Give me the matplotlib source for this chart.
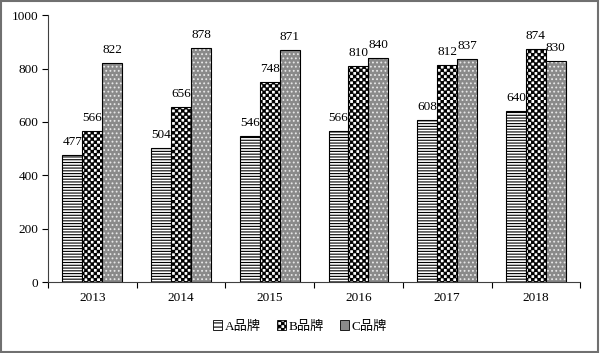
import numpy as np
import matplotlib
matplotlib.use("Agg")
import matplotlib.pyplot as plt
from matplotlib import hatch as mhatch
from matplotlib.path import Path
from matplotlib.patches import Rectangle
import warnings
warnings.filterwarnings("ignore")

years = ["2013", "2014", "2015", "2016", "2017", "2018"]
brand_a = [477, 504, 546, 566, 608, 640]
brand_b = [566, 656, 748, 810, 812, 874]
brand_c = [822, 878, 871, 840, 837, 830]
series_names = ["A品牌", "B品牌", "C品牌"]


class CheckerHatch(mhatch.HatchPatternBase):
    def __init__(self, hatch, density):
        self.n = hatch.count('c') * 16
        if self.n:
            self.cells = [(i, j) for i in range(self.n) for j in range(self.n) if (i + j) % 2 == 0]
            self.num_vertices = len(self.cells) * 5
        else:
            self.cells = []
            self.num_vertices = 0

    def set_vertices_and_codes(self, vertices, codes):
        s = 1.0 / self.n
        sh = s * 0.12
        k = 0
        for (i, j) in self.cells:
            x0, y0 = i * s + sh, j * s + sh
            x1, y1 = (i + 1) * s - sh, (j + 1) * s - sh
            vertices[k:k + 5] = [(x0, y0), (x1, y0), (x1, y1), (x0, y1), (x0, y0)]
            codes[k:k + 5] = [Path.MOVETO, Path.LINETO, Path.LINETO, Path.LINETO, Path.CLOSEPOLY]
            k += 5


mhatch._hatch_types.append(CheckerHatch)

plt.rcParams['font.family'] = ['Liberation Serif', 'Noto Sans CJK SC']
plt.rcParams['hatch.linewidth'] = 0.8

fig = plt.figure(figsize=(6.0, 3.53), dpi=100)
ax = fig.add_axes([0.08, 0.201, 0.887, 0.756])

x = np.arange(len(years))
w = 0.225
xa, xb, xc = x - w, x, x + w

ba = ax.bar(xa, brand_a, w, facecolor='white', edgecolor='black', hatch='------', linewidth=0.8)
bb = ax.bar(xb, brand_b, w, facecolor='white', edgecolor='black', hatch='cc', linewidth=0.8)
bc_fill = ax.bar(xc, brand_c, w, facecolor='#8a8a8a', edgecolor='#e8e8e8', hatch='....', linewidth=0)
bc = ax.bar(xc, brand_c, w, facecolor='none', edgecolor='black', linewidth=0.8)

for xs, vals in ((xa, brand_a), (xb, brand_b), (xc, brand_c)):
    for xi, v in zip(xs, vals):
        ax.text(xi, v + 26, str(v), ha='center', va='bottom', fontsize=9.5)

ax.set_ylim(0, 1000)
ax.set_yticks(np.arange(0, 1001, 200))
ax.set_xlim(-0.5, len(years) - 0.5)
ax.set_xticks(x)
ax.set_xticklabels(years, fontsize=9.5)
ax.set_xticks(np.arange(-0.5, len(years), 1.0), minor=True)
ax.tick_params(axis='x', which='major', length=0, pad=7)
ax.tick_params(axis='x', which='minor', length=4, direction='out', width=0.8)
ax.tick_params(axis='y', length=4, direction='out', width=0.8, labelsize=9.5, pad=3)
for s in ('top', 'right'):
    ax.spines[s].set_visible(False)
for s in ('left', 'bottom'):
    ax.spines[s].set_linewidth(0.8)
    ax.spines[s].set_color('#404040')

h1 = Rectangle((0, 0), 1, 1, facecolor='white', edgecolor='black', hatch='----', linewidth=0.6)
h2 = Rectangle((0, 0), 1, 1, facecolor='white', edgecolor='black', hatch='cc', linewidth=0.6)
h3 = Rectangle((0, 0), 1, 1, facecolor='#8a8a8a', edgecolor='black', linewidth=0.6)
leg = fig.legend([h1, h2, h3], series_names, loc='center', bbox_to_anchor=(0.5, 0.075),
                 ncol=3, frameon=False, fontsize=9.5, handlelength=0.7, handleheight=0.7,
                 handletextpad=0.2, columnspacing=1.2)

fig.patches.append(Rectangle((0.002, 0.004), 0.994, 0.992, transform=fig.transFigure,
                             fill=False, edgecolor='#707070', linewidth=1.5))

fig.savefig('out.png', dpi=100)
